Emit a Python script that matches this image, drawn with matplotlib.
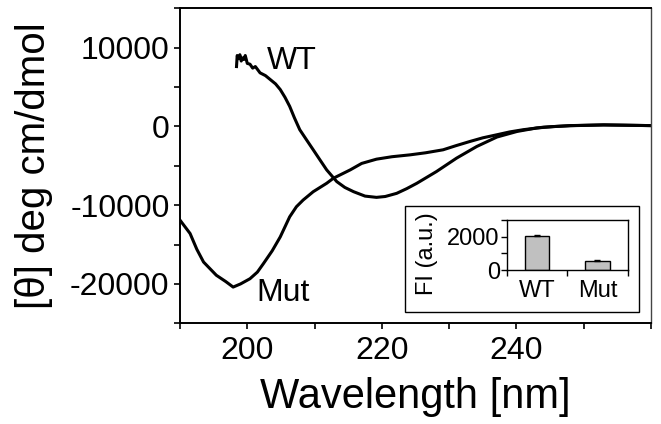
import numpy as np
import matplotlib
matplotlib.use('Agg')
import matplotlib.pyplot as plt
from matplotlib.ticker import MultipleLocator, FixedLocator
from matplotlib.patches import Rectangle

plt.rcParams['font.family'] = ['Liberation Sans', 'DejaVu Sans']
plt.rcParams['axes.unicode_minus'] = False

# CD spectra (wavelength nm, mean residue ellipticity)
wt_nm = [198.4, 198.5, 198.7, 198.9, 199.1, 199.3, 199.5, 199.7, 200.0, 200.4,
         200.8, 201.2, 201.9, 202.7, 203.4, 204.2, 204.9, 205.6, 206.3, 207.0,
         207.8, 208.8, 209.8, 210.8, 211.8, 213.3, 214.5, 215.8, 217.5, 219.2,
         220.5, 222.2, 223.7, 225.2, 228.1, 231.1, 234.1, 237.1, 240.1, 243.0,
         245.5, 248.0, 252.9, 256.0, 260.0]
wt_theta = [7600, 9000, 8600, 9100, 8300, 8700, 8500, 9000, 8000, 7900,
            7400, 7600, 6800, 6450, 5960, 5400, 4680, 3700, 2550, 1100,
            -420, -1700, -2970, -4250, -5520, -7010, -7750, -8290, -8850, -9010,
            -8900, -8500, -7900, -7220, -5740, -4030, -2550, -1350, -640, -200,
            -20, 90, 180, 150, 100]

mut_nm = [190.0, 191.5, 192.5, 193.5, 195.4, 196.8, 197.9, 199.0, 200.4, 201.5,
          202.4, 203.7, 204.9, 206.3, 207.3, 208.3, 209.8, 211.8, 212.8, 215.3,
          217.0, 219.2, 221.5, 224.2, 226.5, 229.1, 231.0, 233.1, 235.0, 237.1,
          239.0, 241.0, 244.0, 248.0, 253.0, 260.0]
mut_theta = [-11900, -13600, -15600, -17220, -18900, -19700, -20400, -20000, -19340, -18500,
             -17420, -15800, -14030, -11480, -10200, -9350, -8290, -7220, -6580, -5520,
             -4700, -4160, -3850, -3610, -3350, -2970, -2450, -1910, -1450, -1060,
             -700, -420, -100, 100, 200, 100]

# inset: fluorescence intensity
fi_labels = ['WT', 'Mut']
fi_values = [2060, 560]
fi_err = [20, 20]

fig = plt.figure(figsize=(6.61, 4.24), dpi=100)
ax = fig.add_axes([0.2723, 0.2375, 0.7126, 0.743])

ax.plot(wt_nm, wt_theta, color='black', lw=2.2)
ax.plot(mut_nm, mut_theta, color='black', lw=2.2)

ax.set_xlim(190, 260)
ax.set_ylim(-25000, 15000)
ax.xaxis.set_major_locator(FixedLocator([200, 220, 240]))
ax.xaxis.set_minor_locator(FixedLocator([190, 210, 230, 250, 260]))
ax.yaxis.set_major_locator(MultipleLocator(10000))
ax.yaxis.set_minor_locator(MultipleLocator(5000))
ax.tick_params(which='both', direction='out', length=4, width=1.2,
               labelsize=23, top=False, right=False)
ax.tick_params(axis='x', pad=5)
for sp in ['left', 'bottom', 'top']:
    ax.spines[sp].set_linewidth(1.4)
ax.spines['right'].set_linewidth(1.0)
ax.spines['right'].set_color('#444444')

ax.set_xlabel('Wavelength [nm]', fontsize=30, labelpad=8)
ax.set_ylabel('[θ] deg cm/dmol', fontsize=29, labelpad=12)

ax.text(206.6, 8300, 'WT', fontsize=23, ha='center', va='center')
ax.text(205.3, -21100, 'Mut', fontsize=23, ha='center', va='center')

# inset frame
fig.patches.append(Rectangle((0.6127, 0.2642), 0.354, 0.25, transform=fig.transFigure,
                             facecolor='white', edgecolor='black', lw=1.0, zorder=3))

ins = fig.add_axes([0.7666, 0.3632, 0.183, 0.1179], zorder=4)
xpos = np.arange(len(fi_labels))
ins.bar(xpos, fi_values, width=0.4, color='#c0c0c0', edgecolor='black', lw=1.0,
        yerr=fi_err, error_kw=dict(ecolor='black', elinewidth=0.8, capsize=2))
ins.set_xlim(-0.5, 1.5)
ins.set_ylim(0, 3000)
ins.set_yticks([0, 1000, 2000, 3000])
ins.set_yticklabels(['0', '', '2000', ''])
ins.set_xticks([-0.5, 0.5, 1.5])
ins.set_xticklabels([])
ins.set_xticks(xpos, minor=True)
ins.set_xticklabels(fi_labels, minor=True)
ins.tick_params(which='major', direction='out', length=4, width=1.0, labelsize=17, pad=1)
ins.tick_params(axis='x', which='minor', length=0, labelsize=17, pad=7)
ins.set_ylabel('FI (a.u.)', fontsize=17)
ins.yaxis.set_label_coords(-0.57, 0.33)
for sp in ins.spines.values():
    sp.set_linewidth(1.0)

fig.savefig('out.png', dpi=100)
